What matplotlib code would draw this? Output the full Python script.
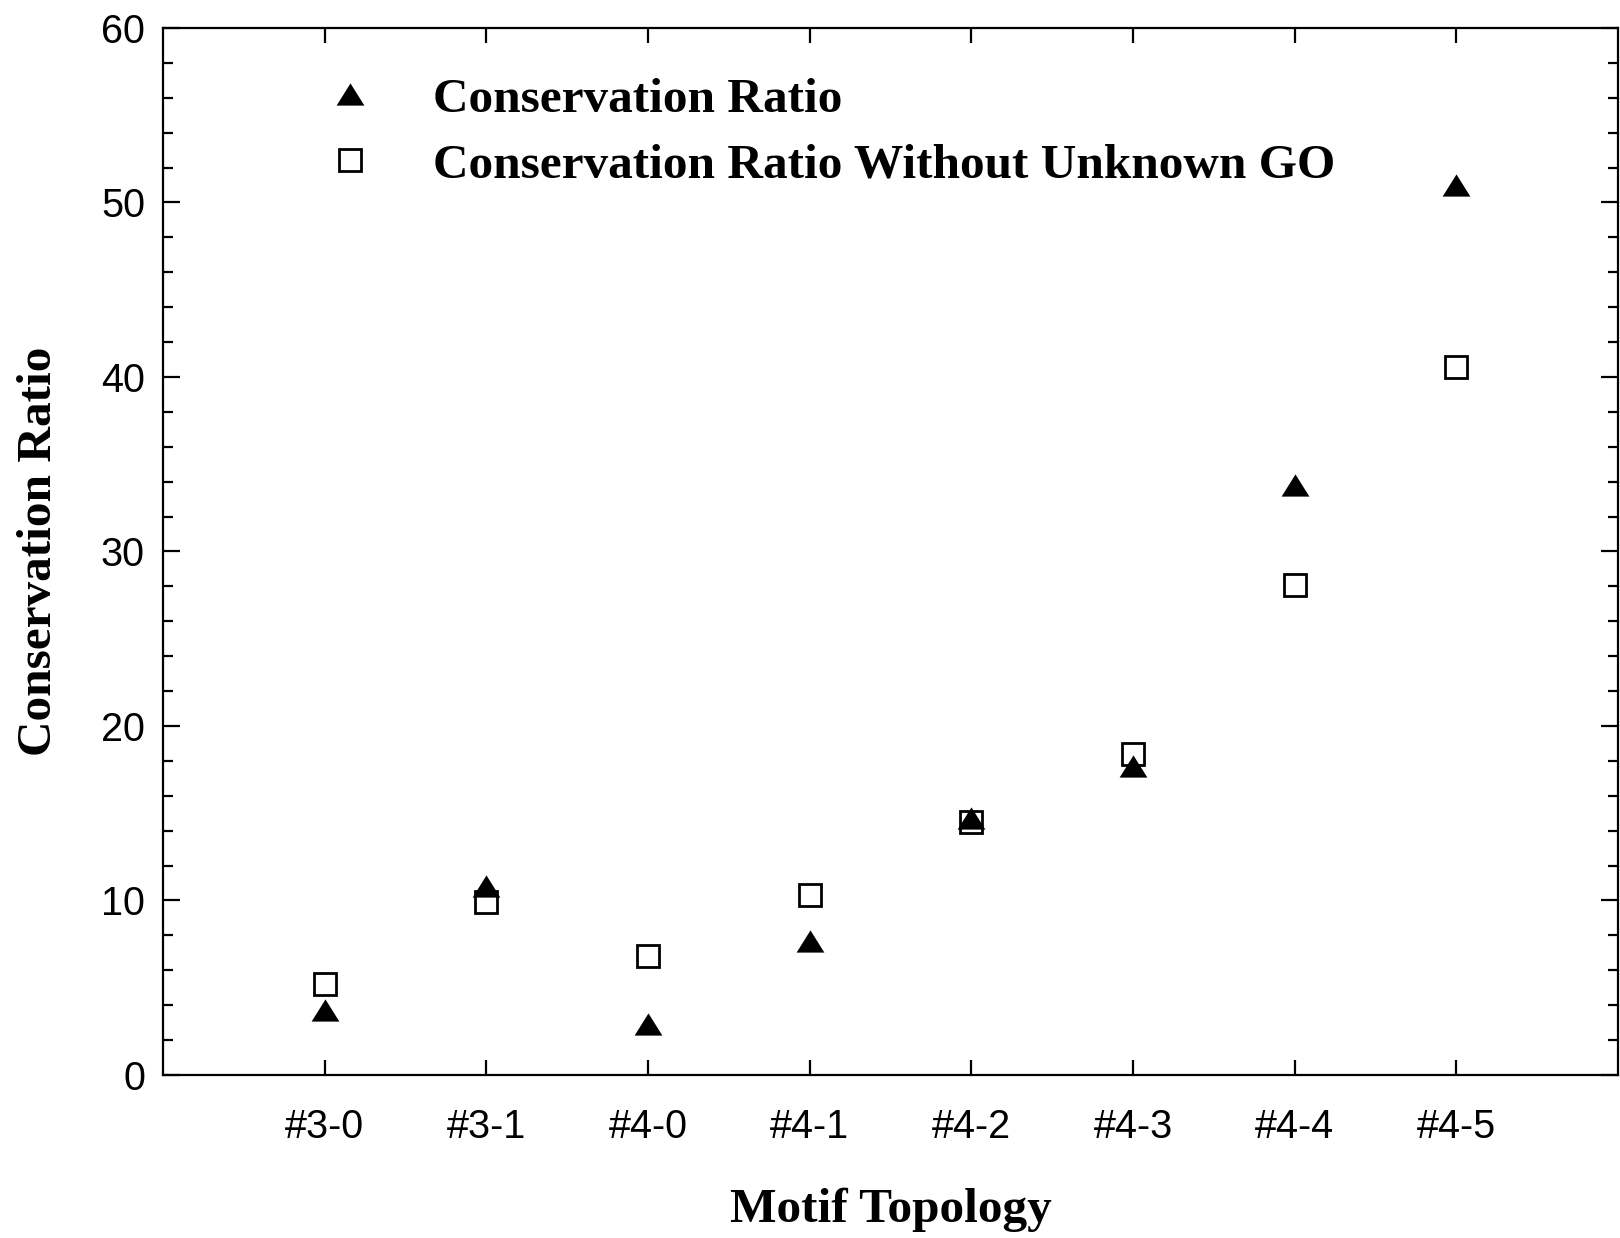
import numpy as np
import matplotlib.pyplot as plt
from matplotlib.lines import Line2D
from matplotlib.ticker import MultipleLocator

motifs = ['#3-0', '#3-1', '#4-0', '#4-1', '#4-2', '#4-3', '#4-4', '#4-5']
ratio = [3.7, 10.8, 2.9, 7.7, 14.7, 17.7, 33.8, 51.0]
ratio_known_go = [5.2, 9.9, 6.8, 10.3, 14.5, 18.4, 28.1, 40.6]

serif = ['Liberation Serif', 'DejaVu Serif']
plt.rcParams['font.family'] = ['Liberation Sans', 'DejaVu Sans']

# squat filled triangle, wider than it is tall
tri = [(0, 0.8), (-1, -0.8), (1, -0.8), (0, 0.8)]

fig = plt.figure(figsize=(16.2, 12.38), dpi=100)
ax = fig.add_axes([0.1006, 0.1317, 0.8982, 0.8457])

x = np.arange(1, len(motifs) + 1)
ax.plot(x, ratio, linestyle='none', marker=tri, markersize=20,
        color='black', markeredgewidth=0)
ax.plot(x, ratio_known_go, linestyle='none', marker='s', markersize=15.5,
        markerfacecolor='none', markeredgecolor='black', markeredgewidth=2.0)

ax.set_xlim(0, 9)
ax.set_ylim(0, 60)
ax.set_xticks(x)
ax.set_xticklabels(motifs)
ax.yaxis.set_major_locator(MultipleLocator(10))
ax.yaxis.set_minor_locator(MultipleLocator(2))

for s in ax.spines.values():
    s.set_linewidth(1.6)
ax.tick_params(axis='both', which='both', direction='in', top=True, right=True,
               width=1.6, labelsize=28.5)
ax.tick_params(axis='x', which='major', length=11, pad=24)
ax.tick_params(axis='y', which='major', length=12, pad=13)
ax.tick_params(axis='y', which='minor', length=7)

ax.set_xlabel('Motif Topology', family=serif, fontweight='bold', fontsize=35.5,
              labelpad=30)
ax.set_ylabel('Conservation Ratio', family=serif, fontweight='bold', fontsize=35.5,
              labelpad=29)

handles = [
    Line2D([], [], linestyle='none', marker=tri, markersize=20, color='black',
           markeredgewidth=0),
    Line2D([], [], linestyle='none', marker='s', markersize=15.5,
           markerfacecolor='none', markeredgecolor='black', markeredgewidth=2.0),
]
ax.legend(handles, ['Conservation Ratio', 'Conservation Ratio Without Unknown GO'],
          loc='upper left', bbox_to_anchor=(0.1113, 0.953), frameon=False,
          borderpad=0, borderaxespad=0, handlelength=1.0, handletextpad=1.19,
          labelspacing=0.43, prop={'family': serif, 'weight': 'bold', 'size': 35.5})

fig.savefig('out.png', dpi=100)
